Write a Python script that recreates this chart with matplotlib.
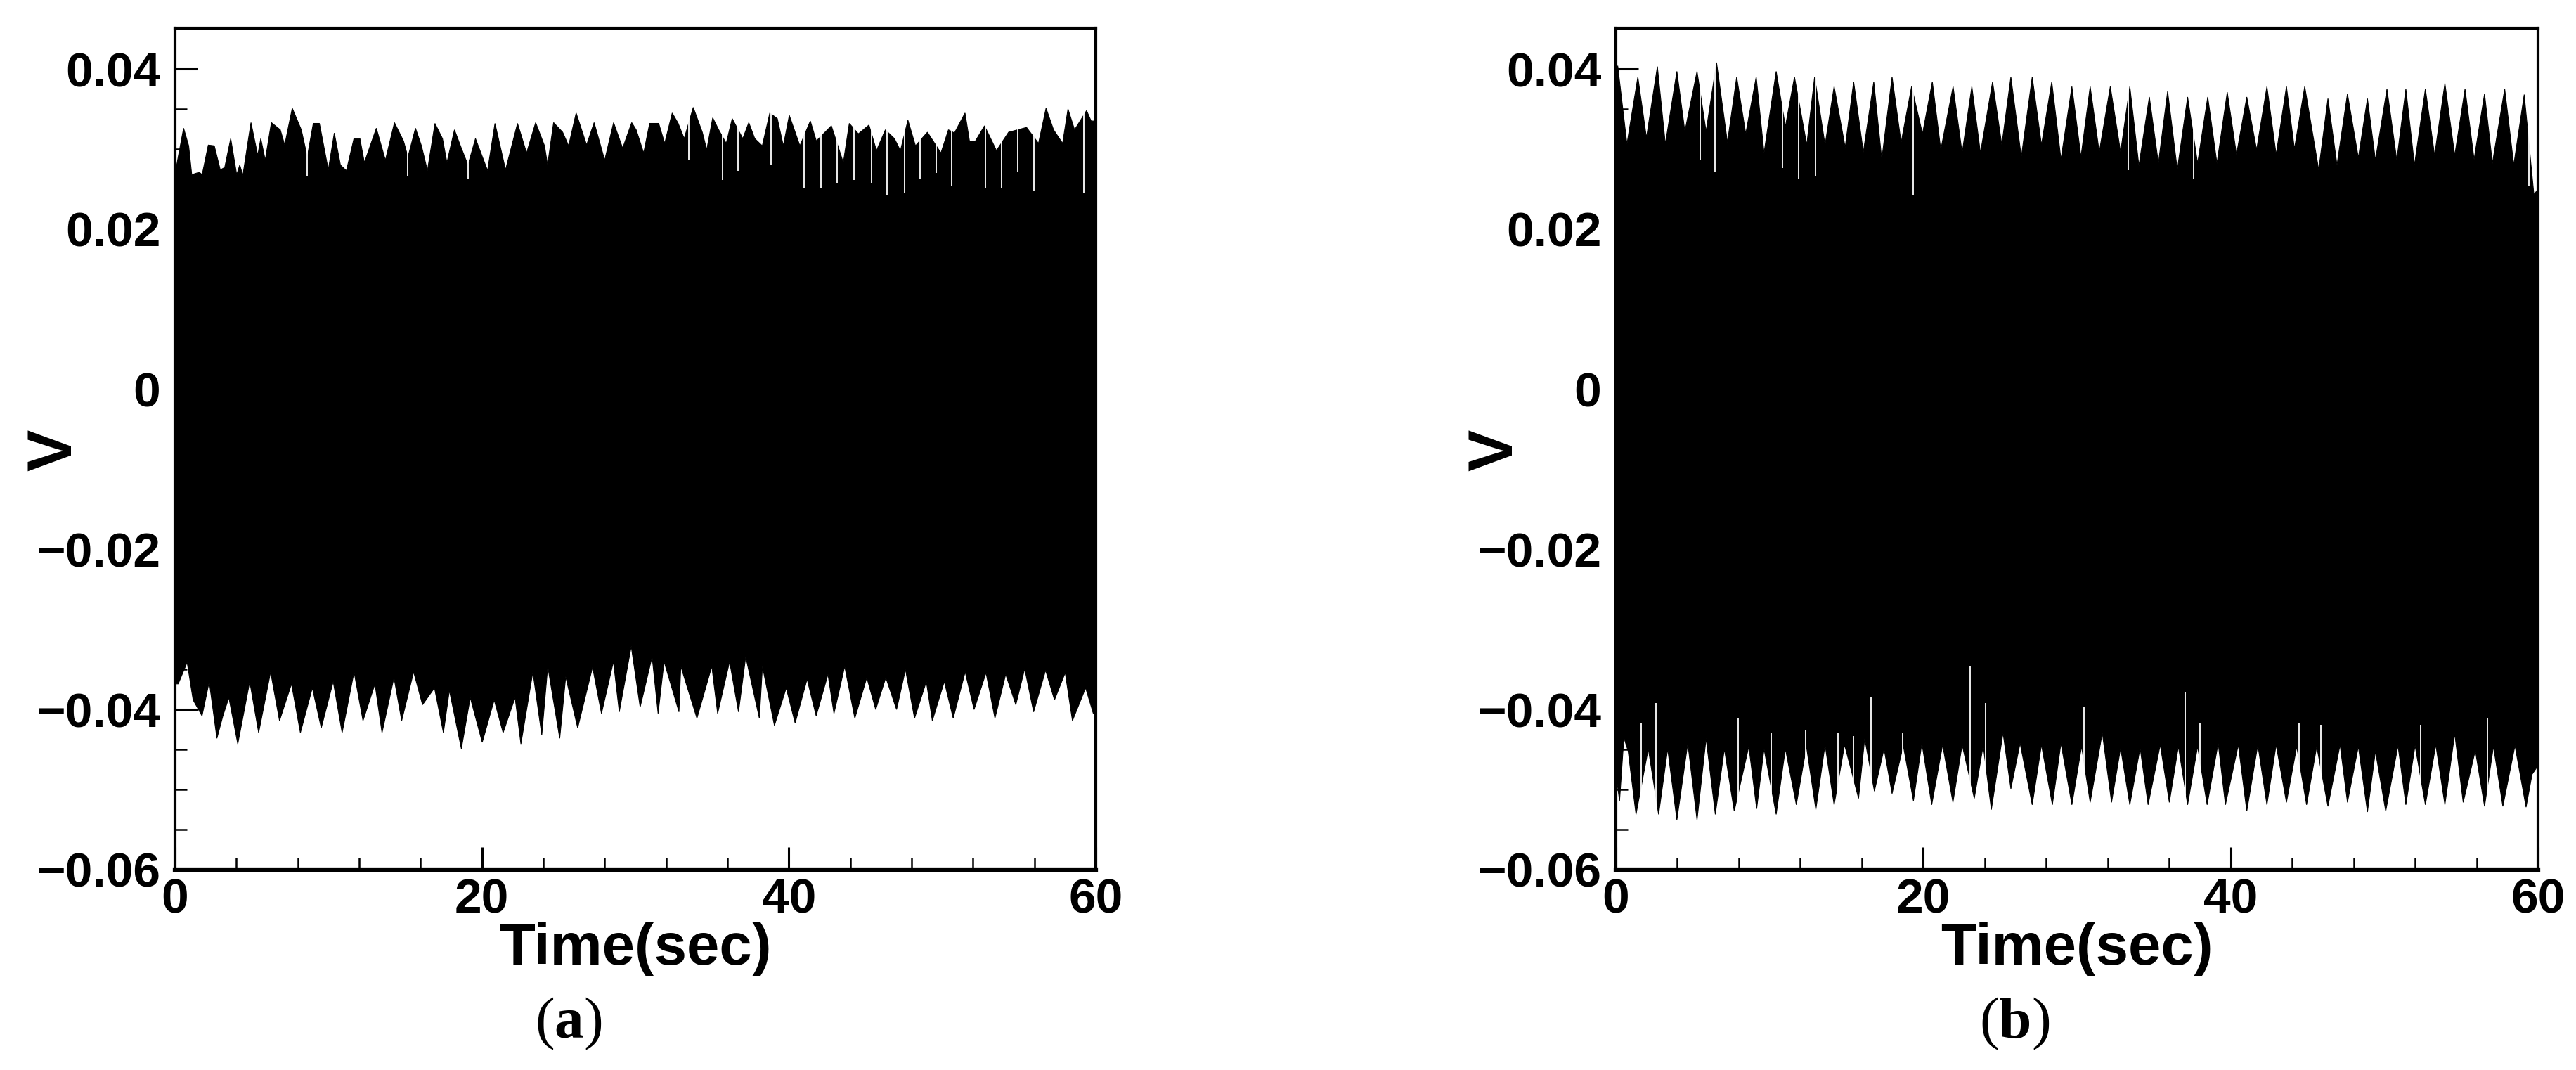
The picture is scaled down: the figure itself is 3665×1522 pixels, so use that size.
import numpy as np
import matplotlib
matplotlib.use("Agg")
import matplotlib.pyplot as plt
from matplotlib.ticker import MultipleLocator, FixedLocator

plt.rcParams['font.family'] = ['Liberation Sans', 'DejaVu Sans']
plt.rcParams['mathtext.fontset'] = 'custom'
plt.rcParams['mathtext.rm'] = 'Liberation Serif'
plt.rcParams['mathtext.bf'] = 'Liberation Serif:bold'

# ---------------- data ----------------
# Panel (a): upper envelope of the signal (time s, V)
a_upper_t = [0.0, 0.11, 0.56, 0.89, 1.09, 1.58, 1.77, 2.17, 2.56, 2.95, 3.24, 3.63, 4.02, 4.22, 4.42,
             4.95, 5.39, 5.59, 5.88, 6.28, 6.86, 7.15, 7.64, 8.23, 8.62, 9.01, 9.41, 9.99, 10.38, 10.78,
             11.17, 11.66, 12.05, 12.34, 13.12, 13.71, 14.30, 14.89, 15.18, 15.67, 16.06, 16.45, 16.94,
             17.43, 17.72, 18.21, 18.60, 19.09, 19.58, 20.37, 20.85, 21.54, 22.32, 22.91, 23.50, 24.08,
             24.28, 24.67, 25.26, 25.65, 26.14, 26.82, 27.31, 28.00, 28.58, 29.17, 29.76, 30.05, 30.54,
             30.93, 31.52, 31.91, 32.40, 32.79, 33.18, 33.77, 34.36, 34.65, 35.04, 35.43, 35.92, 36.31,
             37.00, 37.39, 37.78, 38.27, 38.76, 39.25, 39.64, 40.03, 40.72, 41.40, 41.79, 42.77, 43.55,
             43.94, 44.53, 45.22, 45.71, 46.29, 46.88, 47.27, 47.76, 48.25, 49.03, 49.91, 50.40, 50.79,
             51.48, 51.77, 52.16, 52.75, 53.53, 54.32, 55.49, 56.27, 56.76, 57.25, 57.84, 58.19, 58.62,
             59.40, 59.70, 60.0]
a_upper_v = [0.0280, 0.0280, 0.0326, 0.0304, 0.0268, 0.0271, 0.0268, 0.0305, 0.0304, 0.0274, 0.0277,
             0.0313, 0.0268, 0.0280, 0.0267, 0.0333, 0.0292, 0.0313, 0.0286, 0.0333, 0.0324, 0.0305,
             0.0351, 0.0324, 0.0290, 0.0332, 0.0332, 0.0274, 0.0320, 0.0280, 0.0273, 0.0313, 0.0313,
             0.0283, 0.0326, 0.0286, 0.0333, 0.0310, 0.0290, 0.0326, 0.0304, 0.0273, 0.0332, 0.0313,
             0.0283, 0.0324, 0.0304, 0.0280, 0.0313, 0.0273, 0.0332, 0.0274, 0.0332, 0.0295, 0.0333,
             0.0304, 0.0280, 0.0333, 0.0321, 0.0304, 0.0345, 0.0305, 0.0333, 0.0286, 0.0333, 0.0301,
             0.0333, 0.0324, 0.0295, 0.0332, 0.0332, 0.0307, 0.0345, 0.0332, 0.0313, 0.0352, 0.0321,
             0.0299, 0.0339, 0.0324, 0.0307, 0.0338, 0.0313, 0.0333, 0.0313, 0.0304, 0.0345, 0.0338,
             0.0304, 0.0342, 0.0304, 0.0335, 0.0310, 0.0329, 0.0283, 0.0332, 0.0319, 0.0330, 0.0298,
             0.0324, 0.0313, 0.0298, 0.0336, 0.0304, 0.0321, 0.0295, 0.0324, 0.0320, 0.0345, 0.0310,
             0.0310, 0.0329, 0.0298, 0.0321, 0.0327, 0.0307, 0.0351, 0.0324, 0.0307, 0.0350, 0.0324,
             0.0348, 0.0335, 0.0335]
# Panel (a): lower envelope
a_lower_t = [0.0, 0.21, 0.79, 1.18, 1.76, 2.23, 2.73, 3.12, 3.51, 4.09, 4.87, 5.45, 6.23, 6.81, 7.59,
             8.17, 8.95, 9.53, 10.31, 10.89, 11.67, 12.25, 13.03, 13.49, 14.27, 14.77, 15.55, 16.13,
             16.91, 17.49, 17.88, 18.66, 19.24, 20.02, 20.80, 21.38, 22.16, 22.54, 23.32, 23.90, 24.29,
             25.07, 25.46, 26.24, 27.21, 27.79, 28.57, 28.95, 29.73, 30.31, 31.09, 31.48, 31.87, 32.84,
             32.96, 34.01, 34.98, 35.36, 36.14, 36.72, 37.19, 38.08, 38.28, 39.06, 39.83, 40.41, 41.19,
             41.78, 42.55, 42.94, 43.64, 44.30, 45.08, 45.66, 46.32, 47.02, 47.60, 48.19, 48.96, 49.35,
             50.13, 50.71, 51.49, 52.07, 52.85, 53.43, 54.13, 54.79, 55.37, 55.95, 56.73, 57.31, 58.01,
             58.48, 59.34, 59.84, 60.0]
a_lower_v = [-0.0368, -0.0368, -0.0341, -0.0388, -0.0408, -0.0365, -0.0436, -0.0408, -0.0385, -0.0443,
             -0.0365, -0.0429, -0.0353, -0.0414, -0.0368, -0.0429, -0.0373, -0.0423, -0.0365, -0.0429,
             -0.0353, -0.0414, -0.0368, -0.0429, -0.0360, -0.0414, -0.0353, -0.0394, -0.0373, -0.0429,
             -0.0376, -0.0449, -0.0385, -0.0441, -0.0388, -0.0429, -0.0385, -0.0443, -0.0353, -0.0432,
             -0.0346, -0.0436, -0.0359, -0.0423, -0.0347, -0.0405, -0.0340, -0.0403, -0.0321, -0.0397,
             -0.0334, -0.0405, -0.0340, -0.0403, -0.0346, -0.0411, -0.0346, -0.0405, -0.0340, -0.0403,
             -0.0334, -0.0411, -0.0346, -0.0420, -0.0373, -0.0417, -0.0362, -0.0408, -0.0356, -0.0405,
             -0.0346, -0.0411, -0.0360, -0.0400, -0.0360, -0.0400, -0.0350, -0.0411, -0.0365, -0.0414,
             -0.0365, -0.0411, -0.0353, -0.0400, -0.0354, -0.0411, -0.0356, -0.0394, -0.0349, -0.0403,
             -0.0351, -0.0388, -0.0354, -0.0414, -0.0373, -0.0405, -0.0400]
# Panel (a): single cycles that fall short of the upper envelope (white slivers)
a_dip_t = [8.62, 15.18, 19.09, 33.47, 35.67, 36.70, 38.82, 41.01, 42.09, 43.16, 44.24, 45.41, 46.39,
           47.53, 48.54, 49.62, 50.60, 52.79, 53.87, 54.90, 55.98, 59.21]
a_dip_v = [0.0267, 0.0267, 0.0263, 0.0286, 0.0261, 0.0273, 0.0280, 0.0252, 0.0251, 0.0257, 0.0261,
           0.0257, 0.0243, 0.0245, 0.0263, 0.0270, 0.0254, 0.0252, 0.0251, 0.0271, 0.0248, 0.0245]

# Panel (b): upper envelope
b_upper_t = [0.0, 0.12, 0.72, 1.43, 1.99, 2.70, 3.22, 3.97, 4.49, 5.28, 5.87, 6.55, 7.26, 7.86, 8.45,
             9.13, 9.64, 10.43, 11.03, 11.62, 12.42, 12.93, 13.61, 14.20, 14.92, 15.47, 16.10, 16.78,
             17.30, 17.97, 18.56, 19.24, 19.95, 20.59, 21.14, 21.94, 22.53, 23.16, 23.72, 24.51, 25.11,
             25.70, 26.38, 27.09, 27.69, 28.36, 28.96, 29.67, 30.26, 30.86, 31.45, 32.17, 32.84, 33.44,
             34.03, 34.71, 35.30, 35.90, 36.53, 37.20, 37.85, 38.51, 39.11, 39.78, 40.38, 41.05, 41.69,
             42.36, 42.96, 43.63, 44.15, 44.82, 45.73, 46.33, 46.92, 47.60, 48.31, 48.90, 49.42, 50.17,
             50.81, 51.40, 51.96, 52.67, 53.27, 53.94, 54.58, 55.25, 55.84, 56.52, 57.03, 57.83, 58.42,
             59.10, 59.73, 60.0]
b_upper_v = [0.0380, 0.0404, 0.0306, 0.0390, 0.0314, 0.0403, 0.0306, 0.0397, 0.0322, 0.0397, 0.0322,
             0.0408, 0.0308, 0.0390, 0.0319, 0.0390, 0.0295, 0.0397, 0.0328, 0.0390, 0.0305, 0.0390,
             0.0305, 0.0378, 0.0302, 0.0384, 0.0296, 0.0384, 0.0287, 0.0390, 0.0308, 0.0378, 0.0319,
             0.0384, 0.0299, 0.0378, 0.0295, 0.0378, 0.0295, 0.0384, 0.0305, 0.0390, 0.0290, 0.0390,
             0.0305, 0.0384, 0.0287, 0.0378, 0.0290, 0.0378, 0.0296, 0.0378, 0.0296, 0.0378, 0.0279,
             0.0365, 0.0282, 0.0372, 0.0274, 0.0365, 0.0282, 0.0365, 0.0282, 0.0371, 0.0293, 0.0365,
             0.0299, 0.0378, 0.0293, 0.0378, 0.0300, 0.0378, 0.0274, 0.0363, 0.0280, 0.0369, 0.0289,
             0.0363, 0.0286, 0.0375, 0.0286, 0.0375, 0.0280, 0.0375, 0.0292, 0.0382, 0.0292, 0.0375,
             0.0287, 0.0369, 0.0282, 0.0375, 0.0280, 0.0368, 0.0243, 0.0250]
# Panel (b): lower envelope
b_lower_t = [0.0, 0.24, 0.52, 0.80, 1.31, 2.11, 2.78, 3.37, 3.97, 4.68, 5.28, 5.87, 6.47, 7.06, 7.70,
             8.65, 9.16, 9.64, 10.43, 11.03, 11.74, 12.40, 13.01, 13.61, 14.20, 14.88, 15.79, 16.19,
             16.82, 17.45, 17.97, 18.70, 19.36, 19.91, 20.55, 21.26, 21.93, 22.53, 23.32, 23.90, 24.43,
             25.19, 25.70, 26.30, 27.09, 27.69, 28.40, 28.96, 29.67, 30.30, 30.86, 31.65, 32.25, 32.84,
             33.44, 34.11, 34.63, 35.42, 36.01, 36.60, 37.20, 37.85, 38.47, 39.19, 39.66, 40.50, 41.05,
             41.77, 42.36, 42.96, 43.63, 44.30, 44.94, 45.60, 46.33, 47.12, 47.60, 48.31, 48.90, 49.42,
             50.09, 50.89, 51.40, 52.00, 52.67, 53.35, 53.94, 54.58, 55.13, 55.92, 56.52, 57.10, 57.71,
             58.50, 59.22, 59.61, 60.0]
b_lower_v = [-0.0480, -0.0514, -0.0435, -0.0452, -0.0531, -0.0449, -0.0531, -0.0449, -0.0538, -0.0442,
             -0.0538, -0.0436, -0.0531, -0.0449, -0.0527, -0.0446, -0.0524, -0.0449, -0.0531, -0.0449,
             -0.0519, -0.0446, -0.0525, -0.0444, -0.0519, -0.0444, -0.0511, -0.0436, -0.0502, -0.0449,
             -0.0505, -0.0445, -0.0514, -0.0442, -0.0519, -0.0444, -0.0516, -0.0444, -0.0511, -0.0445,
             -0.0525, -0.0429, -0.0499, -0.0442, -0.0519, -0.0444, -0.0519, -0.0442, -0.0519, -0.0446,
             -0.0516, -0.0429, -0.0516, -0.0448, -0.0519, -0.0448, -0.0519, -0.0444, -0.0516, -0.0446,
             -0.0519, -0.0446, -0.0519, -0.0442, -0.0519, -0.0444, -0.0527, -0.0444, -0.0519, -0.0444,
             -0.0516, -0.0446, -0.0519, -0.0446, -0.0521, -0.0444, -0.0516, -0.0446, -0.0528, -0.0452,
             -0.0527, -0.0445, -0.0519, -0.0445, -0.0519, -0.0444, -0.0519, -0.0430, -0.0516, -0.0451,
             -0.0521, -0.0446, -0.0521, -0.0445, -0.0522, -0.0481, -0.0470]
# Panel (b): short cycles below the upper envelope / above the lower envelope
b_dip_up_t = [5.48, 6.47, 10.83, 11.90, 13.01, 19.36, 33.32, 37.60, 59.42]
b_dip_up_v = [0.0287, 0.0271, 0.0276, 0.0262, 0.0267, 0.0242, 0.0274, 0.0262, 0.0254]
b_dip_low_t = [1.63, 2.62, 7.97, 10.12, 12.34, 14.44, 15.47, 16.58, 18.68, 23.05, 24.04, 30.46, 37.05,
               38.00, 44.46, 45.85, 52.35, 56.72]
b_dip_low_v = [-0.0417, -0.0392, -0.0410, -0.0429, -0.0425, -0.0429, -0.0433, -0.0385, -0.0429, -0.0346,
               -0.0392, -0.0397, -0.0378, -0.0417, -0.0417, -0.0419, -0.0419, -0.0411]

y_ticks = [-0.06, -0.04, -0.02, 0.0, 0.02, 0.04]
y_tick_labels = ['\u22120.06', '\u22120.04', '\u22120.02', '0', '0.02', '0.04']
x_ticks = [0, 20, 40, 60]
x_tick_labels = ['0', '20', '40', '60']
x_label = 'Time(sec)'
y_label = 'V'
panel_labels = ['a', 'b']

# ---------------- figure ----------------
W, H = 3666, 1522
fig = plt.figure(figsize=(W / 100, H / 100), dpi=100)

ax_left_px = [249, 2299]
ax_w_px = [1310, 1312]
ax_top_px, ax_bot_px = 40, 1237
sub_center_px = [809, 2866]

panels = [
    dict(ut=a_upper_t, uv=a_upper_v, lt=a_lower_t, lv=a_lower_v,
         dut=a_dip_t, duv=a_dip_v, dlt=[], dlv=[]),
    dict(ut=b_upper_t, uv=b_upper_v, lt=b_lower_t, lv=b_lower_v,
         dut=b_dip_up_t, duv=b_dip_up_v, dlt=b_dip_low_t, dlv=b_dip_low_v),
]

for i, p in enumerate(panels):
    ax = fig.add_axes([ax_left_px[i] / W, 1 - ax_bot_px / H, ax_w_px[i] / W,
                       (ax_bot_px - ax_top_px) / H])
    ut, uv = np.asarray(p['ut']), np.asarray(p['uv'])
    lt, lv = np.asarray(p['lt']), np.asarray(p['lv'])
    ax.fill(np.r_[ut, lt[::-1]], np.r_[uv, lv[::-1]], color='black', lw=0.8, zorder=2)
    if len(p['dut']):
        ax.vlines(p['dut'], p['duv'], 0.0446, colors='white', lw=1.3, zorder=3)
    if len(p['dlt']):
        ax.vlines(p['dlt'], -0.0555, p['dlv'], colors='white', lw=1.3, zorder=3)

    ax.set_xlim(0, 60)
    ax.set_ylim(-0.06, 0.0451)
    ax.set_axisbelow(False)

    ax.yaxis.set_major_locator(FixedLocator(y_ticks))
    ax.set_yticklabels(y_tick_labels)
    ax.yaxis.set_minor_locator(MultipleLocator(0.005))
    ax.xaxis.set_major_locator(FixedLocator(x_ticks))
    ax.set_xticklabels(x_tick_labels)
    ax.xaxis.set_minor_locator(MultipleLocator(4))

    ax.tick_params(which='both', direction='in', top=False, right=False, colors='black')
    ax.tick_params(which='major', length=23, width=2.2)
    ax.tick_params(which='minor', length=12, width=1.8)
    ax.tick_params(axis='y', which='major', pad=15)
    ax.tick_params(axis='x', which='major', pad=8)
    for lab in ax.get_xticklabels() + ax.get_yticklabels():
        lab.set_fontsize(50)
        lab.set_fontweight('bold')

    for s in ['left', 'right', 'top']:
        ax.spines[s].set_linewidth(3.0)
    ax.spines['bottom'].set_linewidth(4.5)

    # axis titles
    cx = (ax_left_px[i] + ax_w_px[i] / 2) / W
    fig.text(cx, 1 - 1350 / H, x_label, ha='center', va='center',
             fontsize=60, fontweight='bold')
    fig.text((ax_left_px[i] - 171) / W, 1 - 640 / H, y_label, ha='center', va='center',
             rotation=90, fontsize=64, fontweight='bold')
    fig.text(sub_center_px[i] / W, 1 - 1456 / H, '($\\mathbf{%s}$)' % panel_labels[i],
             ha='center', va='center', fontsize=60, family='Liberation Serif')

fig.savefig('out.png', dpi=100, facecolor='white')
